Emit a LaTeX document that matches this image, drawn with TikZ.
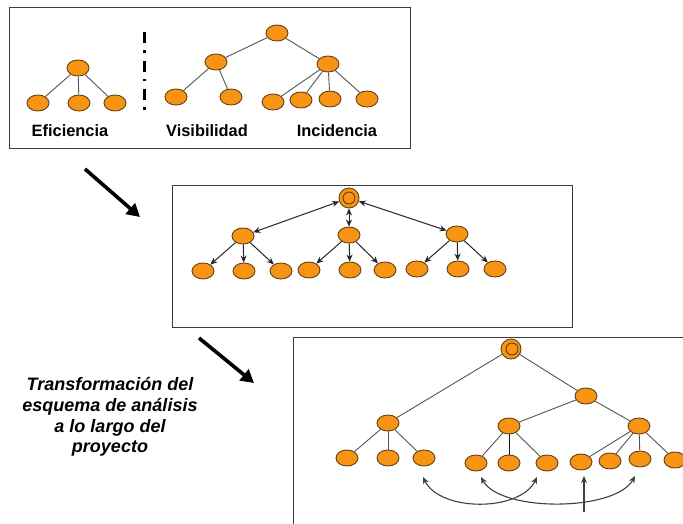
\documentclass[tikz,border=0pt]{standalone}
\usepackage{fontspec}
\setmainfont{Liberation Sans}
\usetikzlibrary{shapes.geometric,arrows.meta}
\definecolor{nodeor}{RGB}{247,148,20}
\definecolor{nodeln}{RGB}{100,65,20}
\definecolor{edgegr}{RGB}{85,85,85}
\definecolor{boxln}{RGB}{60,60,60}
\tikzset{
  nd/.style={ellipse,draw=nodeln,fill=nodeor,line width=0.9pt,minimum width=22pt,minimum height=16pt,inner sep=0pt},
  rt/.style={circle,draw=nodeln,fill=nodeor,line width=0.9pt,minimum size=20pt,inner sep=0pt},
  rtin/.style={circle,draw=nodeln,line width=0.9pt,minimum size=12pt,inner sep=0pt},
  ed/.style={draw=edgegr,line width=0.9pt},
  ar/.style={draw=black!85,line width=1pt,-{Stealth[length=7pt,width=6pt]}},
  dar/.style={draw=black!85,line width=1pt,{Stealth[length=7pt,width=6pt]}-{Stealth[length=7pt,width=6pt]}},
  carr/.style={draw=black!75,line width=1.1pt,{Stealth[length=7pt,width=6pt]}-{Stealth[length=7pt,width=6pt]}},
  panel/.style={draw=boxln,line width=1pt},
  lbl/.style={font=\fontsize{16.4}{19}\selectfont\bfseries},
  big/.style={line width=3.6pt,-{Triangle[length=13pt,width=14pt]}}
}
\begin{document}
\begin{tikzpicture}[x=1pt,y=-1pt]
\useasboundingbox (0,0) rectangle (683,523);
\clip (0,0) rectangle (683,523);
\fill[white] (0,0) rectangle (683,523);

% ---------- Panel 1 ----------
\draw[panel] (9,7) rectangle (410,148);
% Eficiencia
\node[nd] (e0) at (78,68) {};
\node[nd] (e1) at (38,103) {};
\node[nd] (e2) at (79,103) {};
\node[nd] (e3) at (115,103) {};
\foreach \c in {e1,e2,e3} \draw[ed] (e0) -- (\c);
% separator
\draw[line width=3pt,dash pattern=on 11pt off 7pt on 2.5pt off 8pt] (144,32) -- (144,115);
% Visibilidad / Incidencia
\node[nd] (v0) at (277,33) {};
\node[nd] (v1) at (216,62) {};
\node[nd] (v2) at (328,64) {};
\node[nd] (v11) at (176,97) {};
\node[nd] (v12) at (231,97) {};
\node[nd] (v21) at (273,102) {};
\node[nd] (v22) at (301,100) {};
\node[nd] (v23) at (330,99) {};
\node[nd] (v24) at (367,99) {};
\draw[ed] (v0) -- (v1);
\draw[ed] (v0) -- (v2);
\draw[ed] (v1) -- (v11);
\draw[ed] (v1) -- (v12);
\foreach \c in {v21,v22,v23,v24} \draw[ed] (v2) -- (\c);
\node[lbl] (l1) at (70,131) {Eficiencia};
\node[lbl] (l2) at (207,131) {Visibilidad};
\node[lbl] (l3) at (337,131) {Incidencia};

% ---------- Big arrow 1 ----------
\coordinate (a1s) at (85,169);
\coordinate (a1e) at (140,217);
\draw[big] (a1s) -- (a1e);

% ---------- Panel 2 ----------
\draw[panel] (172,185) rectangle (572,327);
\node[rt] (r2) at (349,198) {};
\node[rtin] (r2i) at (349,198) {};
\node[nd] (m1) at (243,236) {};
\node[nd] (m2) at (349,235) {};
\node[nd] (m3) at (457,234) {};
\node[nd] (p1) at (203,271) {};
\node[nd] (p2) at (244,271) {};
\node[nd] (p3) at (281,271) {};
\node[nd] (p4) at (309,270) {};
\node[nd] (p5) at (350,270) {};
\node[nd] (p6) at (385,270) {};
\node[nd] (p7) at (417,269) {};
\node[nd] (p8) at (458,269) {};
\node[nd] (p9) at (495,269) {};
\draw[dar] (r2) -- (m1);
\draw[dar] (r2) -- (m2);
\draw[dar] (r2) -- (m3);
\foreach \c in {p1,p2,p3} \draw[ar] (m1) -- (\c);
\foreach \c in {p4,p5,p6} \draw[ar] (m2) -- (\c);
\foreach \c in {p7,p8,p9} \draw[ar] (m3) -- (\c);

% ---------- Big arrow 2 ----------
\coordinate (a2s) at (199,338);
\coordinate (a2e) at (254,383);
\draw[big] (a2s) -- (a2e);

% ---------- Text ----------
\node[align=center,font=\fontsize{18}{20.7}\selectfont\bfseries\itshape] (txt) at (110,417)
  {Transformación del\\esquema de análisis\\a lo largo del\\proyecto};

% ---------- Panel 3 ----------
\draw[panel] (293,337) rectangle (720,560);
\node[rt] (r3) at (511,349) {};
\node[rtin] (r3i) at (512,349) {};
\node[nd] (q1) at (586,396) {};
\node[nd] (q0) at (388,423) {};
\node[nd] (q2) at (509,426) {};
\node[nd] (q3) at (639,426) {};
\node[nd] (s1) at (347,458) {};
\node[nd] (s2) at (388,458) {};
\node[nd] (s3) at (424,458) {};
\node[nd] (s4) at (476,463) {};
\node[nd] (s5) at (509,463) {};
\node[nd] (s6) at (547,463) {};
\node[nd] (s7) at (581,462) {};
\node[nd] (s8) at (610,461) {};
\node[nd] (s9) at (640,459) {};
\node[nd] (s10) at (675,460) {};
\draw[ed] (r3) -- (q0);
\draw[ed] (r3) -- (q1);
\draw[ed] (q1) -- (q2);
\draw[ed] (q1) -- (q3);
\foreach \c in {s1,s2,s3} \draw[ed] (q0) -- (\c);
\draw[ed] (q2) -- (s4);
\draw[draw=black!90,line width=0.9pt] (q2) -- (s5);
\draw[ed] (q2) -- (s6);
\foreach \c in {s7,s8,s9,s10} \draw[ed] (q3) -- (\c);
% curved arrows
\coordinate (c1a) at (423,477);
\coordinate (c1b) at (537,477);
\coordinate (c2a) at (481,477);
\coordinate (c2b) at (635,476);
\coordinate (c3a) at (584,512);
\coordinate (c3b) at (584,476);
\draw[carr] (c1a) .. controls (440,512) and (520,512) .. (c1b);
\draw[carr] (c2a) .. controls (500,512) and (615,512) .. (c2b);
\draw[draw=black!75,line width=1.1pt,-{Stealth[length=7pt,width=6pt]}] (c3a) -- (c3b);
\end{tikzpicture}
\end{document}
